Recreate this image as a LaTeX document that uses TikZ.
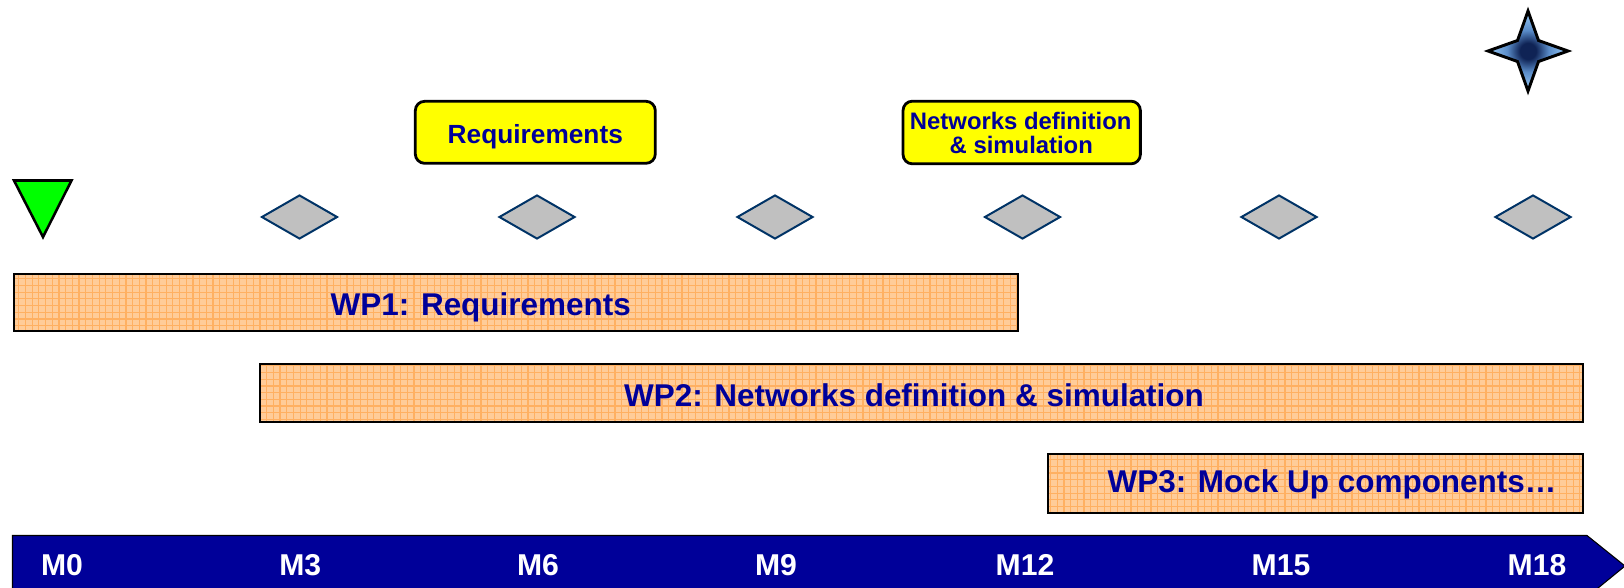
\documentclass[tikz,border=0pt]{standalone}
\usepackage{fontspec}
\setmainfont{Liberation Sans}
\usetikzlibrary{shapes.geometric}
\definecolor{navytext}{RGB}{0,0,153}
\definecolor{timeblue}{RGB}{0,0,153}
\definecolor{barfill}{RGB}{255,204,153}
\definecolor{barline}{RGB}{255,176,98}
\definecolor{msfill}{RGB}{192,192,192}
\definecolor{msline}{RGB}{0,51,102}
\definecolor{startgreen}{RGB}{0,255,0}
\definecolor{calloutyellow}{RGB}{255,255,0}
\definecolor{starlight}{RGB}{150,200,245}
\definecolor{starmid}{RGB}{90,140,200}
\definecolor{stardark}{RGB}{15,35,85}
\pgfdeclareradialshading{starshade}{\pgfpoint{0bp}{0bp}}{color(0bp)=(stardark); color(5bp)=(stardark); color(13bp)=(starmid); color(24bp)=(starlight); color(50bp)=(starlight)}
\begin{document}
\begin{tikzpicture}[x=0.75pt,y=-0.75pt,
  wptext/.style={font=\fontsize{23.6}{28}\selectfont\bfseries, text=navytext, anchor=base, inner sep=0pt},
  mtext/.style={font=\fontsize{22.6}{27}\selectfont\bfseries, text=white, anchor=base, inner sep=0pt},
  callouttext/.style={text=navytext, anchor=base, inner sep=0pt},
  calloutbox/.style={draw=black, fill=calloutyellow, line width=2.1pt, rounded corners=7pt, inner sep=0pt},
  milestone/.style={diamond, draw=msline, fill=msfill, line width=1.5pt, inner sep=0pt, minimum width=57pt, minimum height=33pt},
  barborder/.style={draw=black, line width=1.5pt},
  gridline/.style={barline, line width=0.9pt},
  startmark/.style={draw=black, fill=startgreen, line width=1.9pt, line join=miter},
  timeline/.style={draw=black, fill=timeblue, line width=0.8pt}
]
\useasboundingbox (0,0) rectangle (1624,587);

% star
\shadedraw[shading=starshade, draw=black, line width=2.2pt, line join=miter]
  (1528,11) -- (1538.5,40.5) -- (1568,51) -- (1538.5,61.5) -- (1528,91)
  -- (1517.5,61.5) -- (1488,51) -- (1517.5,40.5) -- cycle;

% callouts
\node[calloutbox, minimum width=180pt, minimum height=46.5pt] (req) at (535.3,132.3) {};
\node[callouttext, font=\fontsize{19.7}{24}\selectfont\bfseries] (reqt) at (535.3,143.3) {Requirements};
\node[calloutbox, minimum width=178pt, minimum height=47pt] (net) at (1021.7,132.5) {};
\node[callouttext, font=\fontsize{17.9}{22}\selectfont\bfseries] (nett1) at (1020.7,129.3) {Networks definition};
\node[callouttext, font=\fontsize{17.9}{22}\selectfont\bfseries] (nett2) at (1021.3,153.3) {\& simulation};

% start marker
\draw[startmark] (14,180.5) -- (71.5,180.5) -- (43,237) -- cycle;

% milestones
\node[milestone] (d3) at (299.5,217) {};
\node[milestone] (d6) at (537,217) {};
\node[milestone] (d9) at (775,217) {};
\node[milestone] (d12) at (1022.5,217) {};
\node[milestone] (d15) at (1279,217) {};
\node[milestone] (d18) at (1533,217) {};

% bars
\fill[barfill] (13.5,273.5) rectangle (1018,331);
\fill[barfill] (260,363.5) rectangle (1583,421.5);
\fill[barfill] (1048,454) rectangle (1583,513);
\begin{scope}
  \clip (13.5,273.5) rectangle (1018,331) (260,363.5) rectangle (1583,421.5) (1048,454) rectangle (1583,513);
  \foreach \gx in {12,18.7,...,1590} \draw[gridline] (\gx,270) -- (\gx,516);
  \foreach \gy in {272,278.7,...,516} \draw[gridline] (10,\gy) -- (1590,\gy);
\end{scope}
\draw[barborder] (13.5,273.5) rectangle (1018,331);
\draw[barborder] (260,363.5) rectangle (1583,421.5);
\draw[barborder] (1048,454) rectangle (1583,513);
\node[wptext] (wp1) at (480.8,315) {WP1: Requirements};
\node[wptext] (wp2) at (914,406) {WP2: Networks definition \& simulation};
\node[wptext] (wp3) at (1332,492) {WP3: Mock Up components…};

% timeline
\draw[timeline] (12.5,535.5) -- (1587,535.5) -- (1625,566) -- (1587,597) -- (12.5,597) -- cycle;
\node[mtext] (m0) at (62,575) {M0};
\node[mtext] (m3) at (300.3,575) {M3};
\node[mtext] (m6) at (538,575) {M6};
\node[mtext] (m9) at (776,575) {M9};
\node[mtext] (m12) at (1025,575) {M12};
\node[mtext] (m15) at (1281,575) {M15};
\node[mtext] (m18) at (1537,575) {M18};
\end{tikzpicture}
\end{document}
